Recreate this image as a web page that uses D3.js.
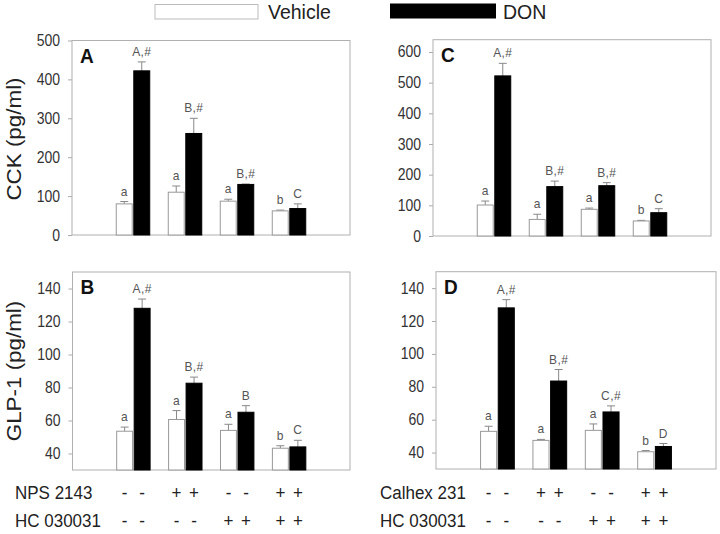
<!DOCTYPE html>
<html><head><meta charset="utf-8">
<script src="https://cdn.jsdelivr.net/npm/d3@7/dist/d3.min.js"></script>
<style>body{margin:0;background:#fff} text{font-family:"Liberation Sans",Arial,sans-serif}</style>
</head><body>
<svg id="c" width="720" height="534"></svg>
<script>
// ---- data ----
const groups = ["G1","G2","G3","G4"];
const seriesNames = ["Vehicle","DON"];

const cckA_vehicle = [80,110,87,62];
const cckA_vehicleErr = [6,16,5,2];
const cckA_don = [422,261,130,68];
const cckA_donErr = [23,39,1,12];
const cckA_vehicleLbl = ["a","a","a","b"];
const cckA_donLbl = ["A,#","B,#","B,#","C"];

const cckC_vehicle = [101,54,87,49];
const cckC_vehicleErr = [13,17,4,2];
const cckC_don = [522,161,164,76];
const cckC_donErr = [41,18,10,13];
const cckC_vehicleLbl = ["a","a","a","b"];
const cckC_donLbl = ["A,#","B,#","B,#","C"];

const glpB_vehicle = [53.5,60.6,54,43.2];
const glpB_vehicleErr = [2.5,5.4,3.7,1.5];
const glpB_don = [128,82.6,65,44];
const glpB_donErr = [5.6,3.7,4,4];
const glpB_vehicleLbl = ["a","a","a","b"];
const glpB_donLbl = ["A,#","B,#","B","C"];

const glpD_vehicle = [52.9,47.4,53.5,40.5];
const glpD_vehicleErr = [3.1,0.6,3.9,0.7];
const glpD_don = [128,83.5,64.7,43.7];
const glpD_donErr = [5,7,3.7,1.8];
const glpD_vehicleLbl = ["a","a","a","b"];
const glpD_donLbl = ["A,#","B,#","C,#","D"];

const ticksCCK_A = [0,100,200,300,400,500];
const ticksCCK_C = [0,100,200,300,400,500,600];
const ticksGLP = [40,60,80,100,120,140];

const leftRows = ["NPS 2143","HC 030031"];
const rightRows = ["Calhex 231","HC 030031"];
const leftSigns = [["-","-","+","+","-","-","+","+"],["-","-","-","-","+","+","+","+"]];
const rightSigns = [["-","-","+","+","-","-","+","+"],["-","-","-","-","+","+","+","+"]];

// ---- drawing ----
const svg = d3.select("#c");
const STRETCH = 1.12;

function stxt(x, y, str, size, opts={}) {
  const sc = opts.stretch === undefined ? STRETCH : opts.stretch;
  const t = svg.append("text")
    .attr("transform", `translate(${x},${y}) ${opts.rotate ? "rotate(-90) scale("+sc+",1)" : "scale(1,"+sc+")"}`)
    .attr("text-anchor", opts.anchor || "start")
    .style("font-size", size+"px").attr("fill", opts.fill || "#222").text(str);
  return t;
}

const panels = [
  {letter:"A", x0:72, x1:350, y0:40.5, y1:235, domain:[0,500], ticks:ticksCCK_A,
   veh:cckA_vehicle, vehErr:cckA_vehicleErr, don:cckA_don, donErr:cckA_donErr, vehLbl:cckA_vehicleLbl, donLbl:cckA_donLbl},
  {letter:"C", x0:433, x1:711, y0:39.7, y1:236, domain:[0,640], ticks:ticksCCK_C,
   veh:cckC_vehicle, vehErr:cckC_vehicleErr, don:cckC_don, donErr:cckC_donErr, vehLbl:cckC_vehicleLbl, donLbl:cckC_donLbl},
  {letter:"B", x0:72.5, x1:350, y0:272, y1:470, domain:[30,150], ticks:ticksGLP,
   veh:glpB_vehicle, vehErr:glpB_vehicleErr, don:glpB_don, donErr:glpB_donErr, vehLbl:glpB_vehicleLbl, donLbl:glpB_donLbl},
  {letter:"D", x0:436, x1:716, y0:271.7, y1:469, domain:[30,150], ticks:ticksGLP,
   veh:glpD_vehicle, vehErr:glpD_vehicleErr, don:glpD_don, donErr:glpD_donErr, vehLbl:glpD_vehicleLbl, donLbl:glpD_donLbl}
];

const subX = {};
panels.forEach(p => {
  const x = d3.scaleBand().domain(groups).range([p.x0,p.x1]).paddingInner(0.356).paddingOuter(0.851);
  const xs = d3.scaleBand().domain(seriesNames).range([0,x.bandwidth()]).paddingInner(0.09);
  const y = d3.scaleLinear().domain(p.domain).range([p.y1,p.y0]);
  subX[p.letter] = {x, xs};
  const g = svg.append("g");

  // axis
  const ax = g.append("g").attr("transform",`translate(${p.x0},0)`)
    .call(d3.axisLeft(y).tickValues(p.ticks).tickSize(4).tickPadding(8));
  ax.select(".domain").remove();
  ax.selectAll(".tick line").attr("stroke","#aaa");
  ax.selectAll(".tick text").attr("fill","#333").style("font-size","14px")
    .attr("transform",`scale(1,${STRETCH})`);

  // frame
  g.append("rect").attr("x",p.x0).attr("y",p.y0).attr("width",p.x1-p.x0).attr("height",p.y1-p.y0)
    .attr("fill","none").attr("stroke","#b0b0b0").attr("stroke-width",1);

  const rows = groups.map((gr,i)=>[
    {s:"Vehicle", g:gr, v:p.veh[i], e:p.vehErr[i], l:p.vehLbl[i]},
    {s:"DON", g:gr, v:p.don[i], e:p.donErr[i], l:p.donLbl[i]}
  ]).flat();

  const cx = d => x(d.g) + xs(d.s) + xs.bandwidth()/2;

  // error bars (upper only)
  g.selectAll(".err").data(rows).join("path")
    .attr("d", d => `M${cx(d)},${y(d.v)}V${y(d.v+d.e)}M${cx(d)-4},${y(d.v+d.e)}H${cx(d)+4}`)
    .attr("stroke","#888").attr("stroke-width",1).attr("fill","none");

  g.selectAll(".bar").data(rows).join("rect")
    .attr("x", d => x(d.g)+xs(d.s)).attr("width", xs.bandwidth())
    .attr("y", d => y(d.v)).attr("height", d => y(p.domain[0]) - y(d.v))
    .attr("fill", d => d.s==="DON" ? "#000" : "#fff")
    .attr("stroke", d => d.s==="DON" ? "#000" : "#999").attr("stroke-width",1);

  g.selectAll(".lbl").data(rows).join("text")
    .attr("transform", d => `translate(${cx(d)},${y(d.v+d.e) - 6}) scale(1,${STRETCH})`)
    .attr("text-anchor","middle").attr("fill","#555").style("font-size","12px")
    .style("letter-spacing","0.4px")
    .text(d => d.l);

  g.append("text").attr("transform",`translate(${p.x0+8},${p.y0+22}) scale(1,1.05)`)
    .style("font-size","19px").style("font-weight","bold")
    .attr("fill","#111").text(p.letter);
});

// y-axis titles
stxt(21,139,"CCK (pg/ml)",20,{rotate:true, anchor:"middle"});
stxt(21,371,"GLP-1 (pg/ml)",20,{rotate:true, anchor:"middle"});

// legend
svg.append("rect").attr("x",155).attr("y",4.5).attr("width",103).attr("height",14.5)
  .attr("fill","#fff").attr("stroke","#bbb");
stxt(268,18.5,seriesNames[0],19.5,{stretch:1});
svg.append("rect").attr("x",390).attr("y",3.5).attr("width",106).attr("height",15).attr("fill","#000");
stxt(503,18.5,seriesNames[1],19.5,{stretch:1});

// treatment tables
function table(letter, names, signs, xLabel) {
  const {x, xs} = subX[letter];
  const rowY = [499, 527];
  const pos = groups.flatMap(gr => seriesNames.map(s => x(gr)+xs(s)+xs.bandwidth()/2));
  names.forEach((n,r) => {
    stxt(xLabel,rowY[r],n,17);
    svg.selectAll(null).data(signs[r]).join("text")
      .attr("transform",(d,i)=>`translate(${pos[i]},${rowY[r]}) scale(1,${STRETCH})`)
      .attr("text-anchor","middle")
      .style("font-size","17px").attr("fill","#222").text(d=>d);
  });
}
table("B", leftRows, leftSigns, 15);
table("D", rightRows, rightSigns, 380);
</script>
</body></html>
